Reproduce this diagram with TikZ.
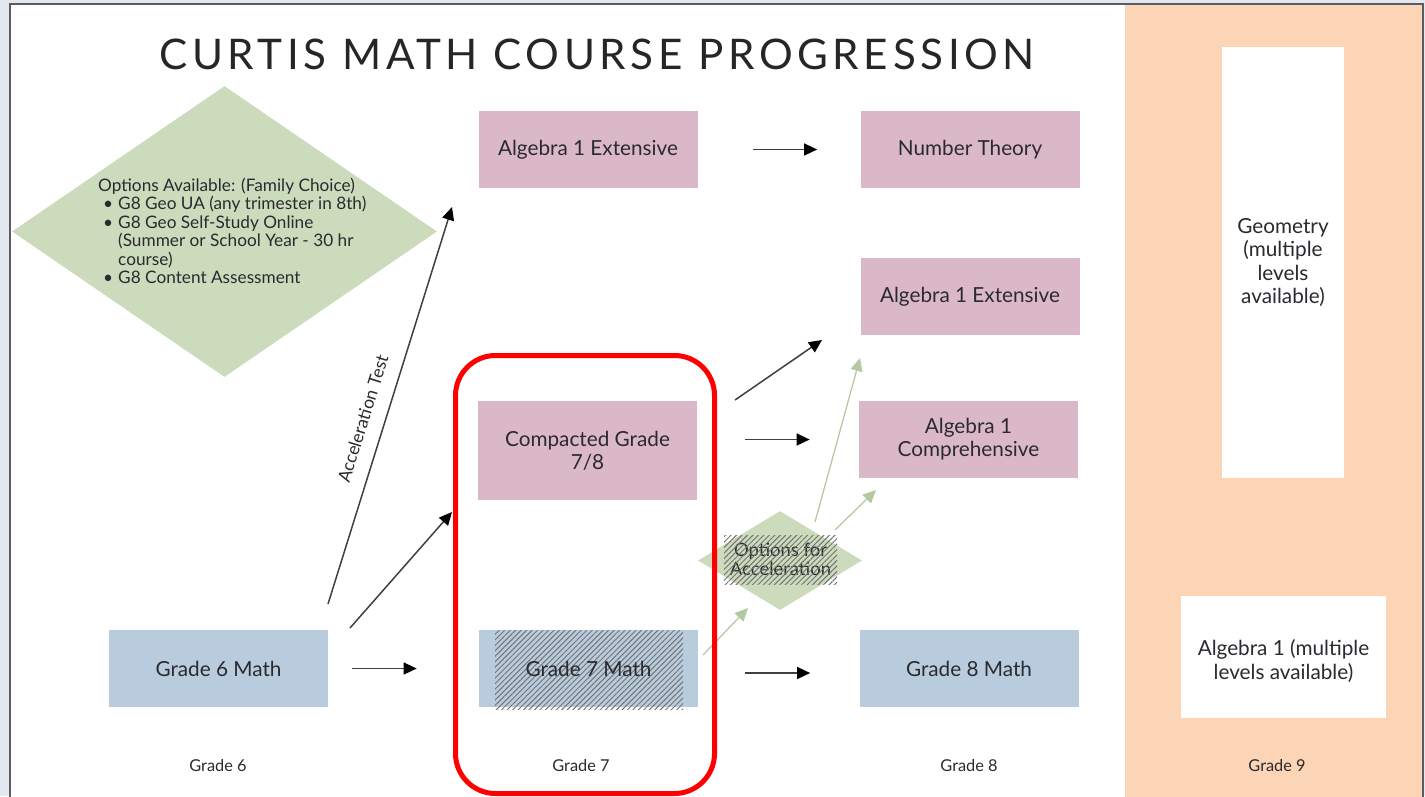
\documentclass[tikz,border=0pt]{standalone}
\usepackage{fontspec}
\setmainfont{Lato}
\newfontfamily\titlefont[LetterSpace=11]{Lato}
\usetikzlibrary{arrows.meta,patterns.meta,shapes.geometric}

\definecolor{slidebg}{HTML}{E3E8F0}
\definecolor{slideline}{HTML}{5A5C62}
\definecolor{boxblue}{HTML}{B9CCDE}
\definecolor{boxpink}{HTML}{DBB8C8}
\definecolor{boxgreen}{HTML}{CCDBBB}
\definecolor{colpeach}{HTML}{FBD5B5}
\definecolor{arrgreen}{HTML}{B5C9A0}
\definecolor{txtgrey}{HTML}{2A2A30}

\newcommand{\optbullet}{\hspace*{1.0mm}\makebox[3.0mm][l]{\textbullet}}
\newcommand{\optindent}{\hspace*{4.0mm}}

\tikzset{
  course/.style={minimum width=43.8mm, minimum height=15.4mm, inner sep=0pt,
    align=center, font=\fontsize{11.8}{13.2}\selectfont, text=txtgrey},
  smalltxt/.style={font=\fontsize{9.3}{10.6}\selectfont, text=txtgrey},
  hatch/.style={pattern={Lines[angle=45,distance=2.2pt,line width=0.55pt]},
    pattern color=black!55},
  arr/.style={draw=black!75, line width=0.3mm,
    -{Triangle[length=2.6mm,width=2.4mm,color=black]}},
  garr/.style={draw=arrgreen, line width=0.25mm,
    -{Triangle[length=2.6mm,width=2.4mm]}}
}

\begin{document}
\begin{tikzpicture}[x=0.2mm, y=-0.2mm]

    \useasboundingbox (0,0) rectangle (1425,796);

    %----- SLIDE -----
    \fill[slidebg] (0,0) rectangle (1425,796);
    \fill[white] (10,4) rectangle (1423,800);
    \fill[colpeach] (1125,5) rectangle (1422,800);
    \draw[slideline, line width=0.45mm] (10,810) -- (10,4) -- (1423,4) -- (1423,810);

    %----- TITLE -----
    \node[font=\titlefont\fontsize{24}{28}\selectfont, text=black!85] (title)
        at (597,54) {CURTIS MATH COURSE PROGRESSION};

    %----- OPTIONS DIAMOND -----
    \node[diamond, fill=boxgreen, inner sep=0pt, minimum width=85mm,
        minimum height=58.2mm] (opts) at (224.5,231.5) {};
    \node[smalltxt, font=\fontsize{9.8}{10.5}\selectfont, align=left, anchor=west]
        (optstxt) at (92,231) {%
        Options Available: (Family Choice)\\
        \optbullet G8 Geo UA (any trimester in 8th)\\
        \optbullet G8 Geo Self-Study Online\\
        \optindent (Summer or School Year - 30 hr\\
        \optindent course)\\
        \optbullet G8 Content Assessment};

    %----- GRADE 6 -----
    \node[course, fill=boxblue] (g6) at (218.5,668.5) {Grade 6 Math};

    %----- GRADE 7 -----
    \node[course, fill=boxpink] (alg1a) at (588,149.5) {Algebra 1 Extensive};
    \node[course, fill=boxpink, minimum height=19.8mm] (c78) at (587.5,450.5)
        {Compacted Grade\\7/8};
    \node[course, fill=boxblue] (g7) at (588.5,668.5) {};
    \fill[hatch] (495,630) rectangle (683,709);
    \node[course] (g7txt) at (g7) {Grade 7 Math};

    %----- ACCELERATION OPTIONS -----
    \node[diamond, fill=boxgreen, inner sep=0pt, minimum width=32.8mm,
        minimum height=19.8mm] (accopt) at (780,560.5) {};
    \node[smalltxt, font=\fontsize{10.5}{10.8}\selectfont, align=center]
        (accopttxt) at (780.5,559.5) {Options for\\Acceleration};
    \fill[hatch] (724,535) rectangle (837,584);

    %----- GRADE 8 -----
    \node[course, fill=boxpink] (nt) at (970,149.5) {Number Theory};
    \node[course, fill=boxpink] (alg1b) at (970,296.5) {Algebra 1 Extensive};
    \node[course, fill=boxpink] (alg1c) at (968.5,439.5) {Algebra 1\\Comprehensive};
    \node[course, fill=boxblue] (g8) at (969,668.5) {Grade 8 Math};

    %----- GRADE 9 -----
    \node[course, fill=white, minimum width=24.4mm, minimum height=86.2mm] (geo)
        at (1283,262.5) {Geometry\\(multiple\\levels\\available)};
    \node[course, fill=white, minimum width=41mm, minimum height=24.4mm] (alg9)
        at (1283.5,657) {};
    \node[course] (alg9txt) at (1283.5,661) {Algebra 1 (multiple\\levels available)};

    %----- GRADE LABELS -----
    \node[smalltxt] (lab6) at (218,766) {Grade 6};
    \node[smalltxt] (lab7) at (581,766) {Grade 7};
    \node[smalltxt] (lab8) at (969,766) {Grade 8};
    \node[smalltxt] (lab9) at (1277,766) {Grade 9};

    %----- ARROW ENDS -----
    \coordinate (acc-s) at (328,604);
    \coordinate (acc-e) at (452,207);
    \coordinate (cmp-s) at (350,628);
    \coordinate (cmp-e) at (452,512);
    \coordinate (up-s) at (735,400);
    \coordinate (up-e) at (822,340);
    \coordinate (go-s) at (703,655);
    \coordinate (go-e) at (748,608);
    \coordinate (ga-s) at (815,522);
    \coordinate (ga-e) at (860,358);
    \coordinate (gc-s) at (835,530);
    \coordinate (gc-e) at (876,490);

    %----- BLACK ARROWS -----
    \draw[arr] (acc-s) -- (acc-e)
        node[smalltxt, font=\fontsize{10}{12}\selectfont, pos=0.45, sloped,
            above=5pt] (acctest) {Acceleration Test};
    \draw[arr] (cmp-s) -- (cmp-e);
    \draw[arr, shorten <=4.8mm, shorten >=12.4mm] (g6) -- (g7);
    \draw[arr, shorten <=11mm, shorten >=8.6mm] (alg1a) -- (nt);
    \draw[arr] (up-s) -- (up-e);
    \draw[arr, shorten <=9.6mm, shorten >=9.8mm] (c78.east |- alg1c) -- (alg1c);
    \draw[arr, shorten <=9.4mm, shorten >=9.8mm] ([yshift=-0.9mm]g7.east) -- ([yshift=-0.9mm]g8.west);

    %----- GREEN ARROWS -----
    \draw[garr] (go-s) -- (go-e);
    \draw[garr] (ga-s) -- (ga-e);
    \draw[garr] (gc-s) -- (gc-e);

    %----- HIGHLIGHT -----
    \draw[red, line width=1mm, rounded corners=8mm] (455.5,355.5) rectangle (714.5,793.5);

\end{tikzpicture}
\end{document}
